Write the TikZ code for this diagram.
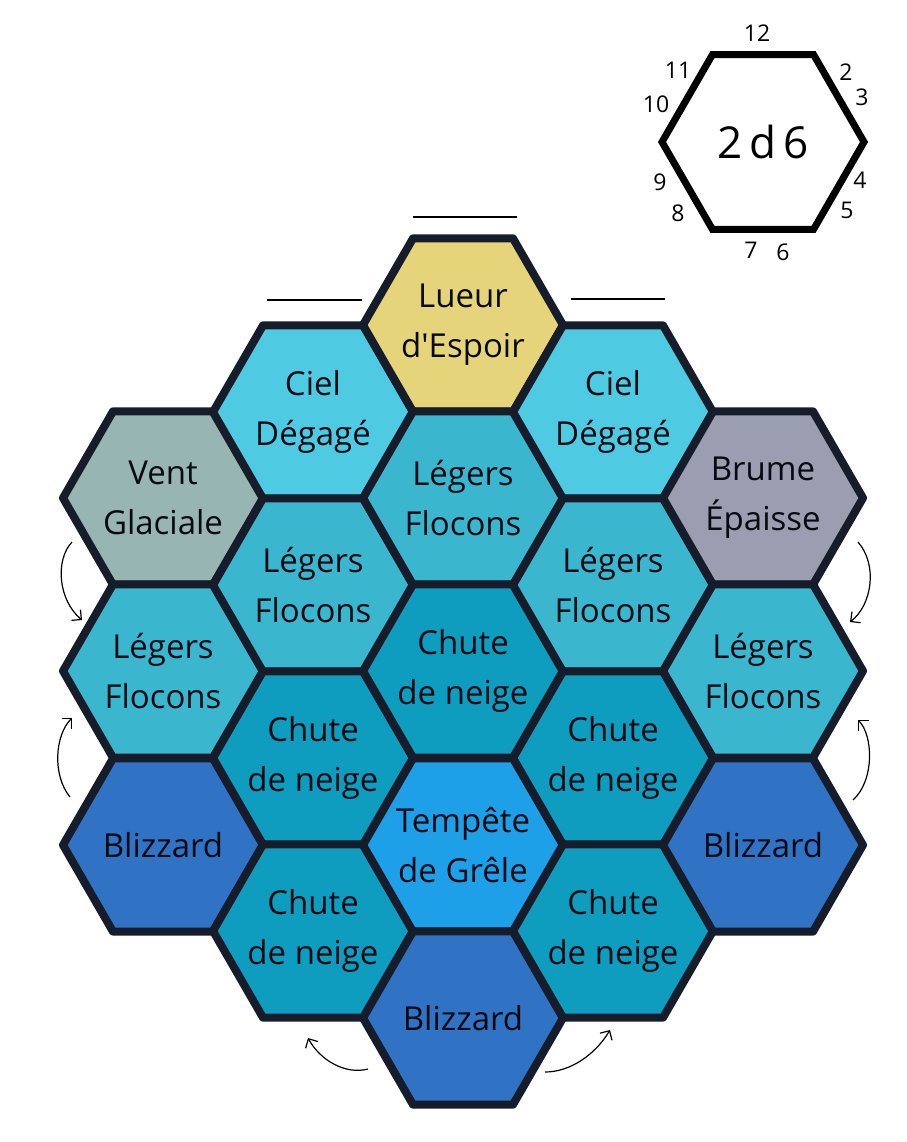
\documentclass[tikz,border=0pt]{standalone}
\usepackage{fontspec}
\setmainfont{Open Sans}
\usetikzlibrary{shapes.geometric,arrows.meta}
\definecolor{hexInk}{RGB}{22,28,42}
\definecolor{hexText}{RGB}{8,10,18}
\definecolor{hexLueur}{RGB}{230,212,122}
\definecolor{hexCiel}{RGB}{78,203,227}
\definecolor{hexVent}{RGB}{151,181,179}
\definecolor{hexBrume}{RGB}{154,158,176}
\definecolor{hexLegers}{RGB}{58,183,207}
\definecolor{hexChute}{RGB}{14,157,191}
\definecolor{hexGrele}{RGB}{30,160,232}
\definecolor{hexBlizzard}{RGB}{48,114,196}

\begin{document}
\begin{tikzpicture}[x=1pt, y=-1pt,
    hexcell/.style={regular polygon, regular polygon sides=6, minimum size=200pt,
      inner sep=0pt, draw=hexInk, line width=8pt, line join=round},
    celltext/.style={align=center, font=\fontsize{33}{50}\selectfont, text=hexText},
    dicehex/.style={regular polygon, regular polygon sides=6, minimum size=202pt,
      inner sep=0pt, draw=black, line width=7pt, fill=white},
    facenum/.style={font=\fontsize{23}{23}\selectfont, text=black},
    turn/.style={-{Straight Barb[length=7pt]}, line width=1.2pt, color=black},
    rule/.style={line width=1.6pt, color=black}
  ]
  \useasboundingbox (0,0) rectangle (906,1142);

  % die with its faces
  \node[dicehex] (die) at (763,142) {};
  \node[font=\fontsize{44}{44}\selectfont] at (die) {2\,d\,6};
  \node[facenum] (f12) at (757,33) {12};
  \node[facenum] (f11) at (678,70) {11};
  \node[facenum] (f10) at (656,104) {10};
  \node[facenum] (f9) at (660,182) {9};
  \node[facenum] (f8) at (678,213) {8};
  \node[facenum] (f7) at (751,250) {7};
  \node[facenum] (f6) at (783,252) {6};
  \node[facenum] (f5) at (847,210) {5};
  \node[facenum] (f4) at (860,180) {4};
  \node[facenum] (f3) at (862,97) {3};
  \node[facenum] (f2) at (846,72) {2};

  % short rules above the top row
  \coordinate (r1a) at (413,217); \coordinate (r1b) at (517,217);
  \coordinate (r2a) at (267,300); \coordinate (r2b) at (362,300);
  \coordinate (r3a) at (571,299); \coordinate (r3b) at (665,299);
  \draw[rule] (r1a) -- (r1b);
  \draw[rule] (r2a) -- (r2b);
  \draw[rule] (r3a) -- (r3b);

  % column 1
  \node[hexcell, fill=hexVent] (a1) at (163,498) {};
  \node[hexcell, fill=hexLegers] (a2) at (163,671) {};
  \node[hexcell, fill=hexBlizzard] (a3) at (163,845) {};
  % column 2
  \node[hexcell, fill=hexCiel] (b1) at (313,412) {};
  \node[hexcell, fill=hexLegers] (b2) at (313,585) {};
  \node[hexcell, fill=hexChute] (b3) at (313,758) {};
  \node[hexcell, fill=hexChute] (b4) at (313,931) {};
  % column 3
  \node[hexcell, fill=hexLueur] (c1) at (463,325) {};
  \node[hexcell, fill=hexLegers] (c2) at (463,498) {};
  \node[hexcell, fill=hexChute] (c3) at (463,671) {};
  \node[hexcell, fill=hexGrele] (c4) at (463,845) {};
  \node[hexcell, fill=hexBlizzard] (c5) at (463,1018) {};
  % column 4
  \node[hexcell, fill=hexCiel] (d1) at (613,412) {};
  \node[hexcell, fill=hexLegers] (d2) at (613,585) {};
  \node[hexcell, fill=hexChute] (d3) at (613,758) {};
  \node[hexcell, fill=hexChute] (d4) at (613,931) {};
  % column 5
  \node[hexcell, fill=hexBrume] (e1) at (763,498) {};
  \node[hexcell, fill=hexLegers] (e2) at (763,671) {};
  \node[hexcell, fill=hexBlizzard] (e3) at (763,845) {};

  % labels
  \node[celltext] at (a1) {Vent\\Glaciale};
  \node[celltext] at (a2) {Légers\\Flocons};
  \node[celltext] at (a3) {Blizzard};
  \node[celltext] at (b1) {Ciel\\Dégagé};
  \node[celltext] at (b2) {Légers\\Flocons};
  \node[celltext] at (b3) {Chute\\de neige};
  \node[celltext] at (b4) {Chute\\de neige};
  \node[celltext] at (c1) {Lueur\\d\textquotesingle Espoir};
  \node[celltext] at (c2) {Légers\\Flocons};
  \node[celltext] at (c3) {Chute\\de neige};
  \node[celltext] at (c4) {Tempête\\de Grêle};
  \node[celltext] at (c5) {Blizzard};
  \node[celltext] at (d1) {Ciel\\Dégagé};
  \node[celltext] at (d2) {Légers\\Flocons};
  \node[celltext] at (d3) {Chute\\de neige};
  \node[celltext] at (d4) {Chute\\de neige};
  \node[celltext] at (e1) {Brume\\Épaisse};
  \node[celltext] at (e2) {Légers\\Flocons};
  \node[celltext] at (e3) {Blizzard};

  % turning arrows
  \coordinate (la1) at (72,542);  \coordinate (la2) at (82,620);
  \coordinate (lb1) at (70,797);  \coordinate (lb2) at (72,718);
  \coordinate (ra1) at (858,542); \coordinate (ra2) at (850,622);
  \coordinate (rb1) at (853,800); \coordinate (rb2) at (858,720);
  \coordinate (ba1) at (368,1069); \coordinate (ba2) at (308,1038);
  \coordinate (bb1) at (545,1072); \coordinate (bb2) at (610,1030);
  \draw[turn] (la1) .. controls (55,560) and (58,600) .. (la2);
  \draw[turn] (lb1) .. controls (52,775) and (55,735) .. (lb2);
  \draw[turn] (ra1) .. controls (878,565) and (872,605) .. (ra2);
  \draw[turn] (rb1) .. controls (875,780) and (873,735) .. (rb2);
  \draw[turn] (ba1) .. controls (345,1075) and (320,1060) .. (ba2);
  \draw[turn] (bb1) .. controls (570,1072) and (595,1055) .. (bb2);
\end{tikzpicture}
\end{document}
